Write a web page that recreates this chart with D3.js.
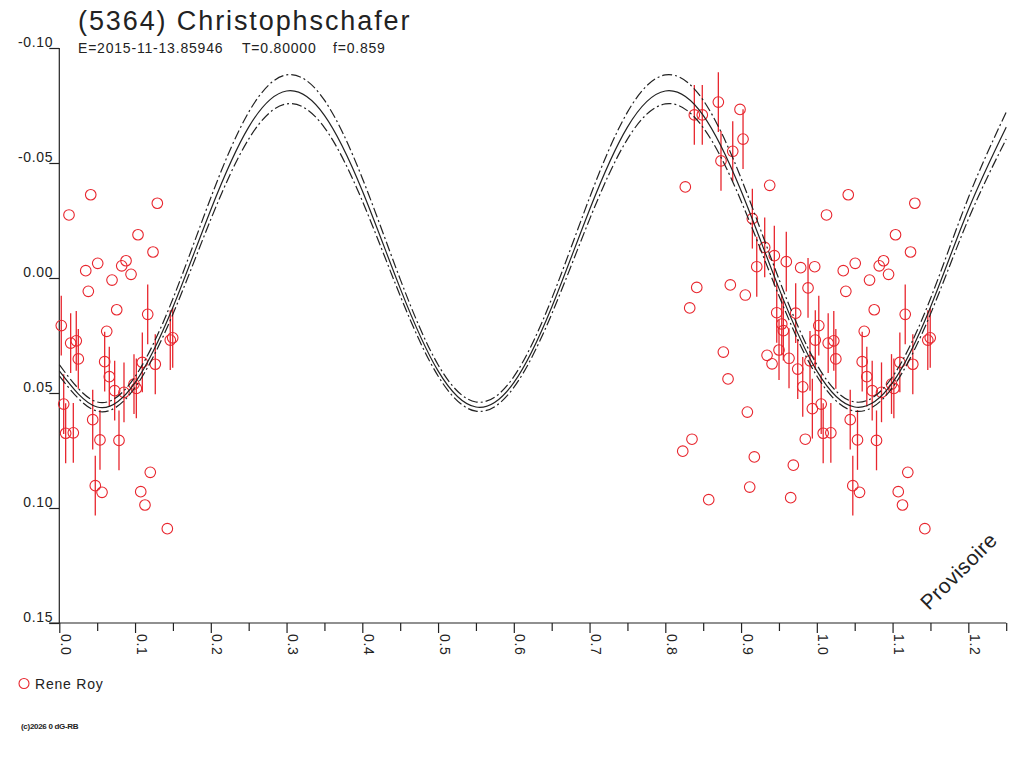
<!DOCTYPE html>
<html><head><meta charset="utf-8">
<script src="https://cdn.jsdelivr.net/npm/d3@7"></script>
<style>
body{margin:0;background:#fff}
svg{display:block}
text{font-family:'Liberation Sans',Arial,sans-serif;fill:#222}
</style>
</head><body>
<script>
// ---- data ----
const titleText = "(5364) Christophschafer";
const infoTexts = ["E=2015-11-13.85946", "T=0.80000", "f=0.859"];
const observerName = "Rene Roy";
const copyrightText = "(c)2026 0 dG-RB";
const watermarkText = "Provisoire";

const xMajorTicks = [0.0,0.1,0.2,0.3,0.4,0.5,0.6,0.7,0.8,0.9,1.0,1.1,1.2];
const xMinorTicks = [0.05,0.15,0.25,0.35,0.45,0.55,0.65,0.75,0.85,0.95,1.05,1.15,1.25];
const yTicks = [-0.10,-0.05,0.00,0.05,0.10,0.15];

// observations (phase 0..1), magnitude, error (0 = no error bar)
const obsPhase = [
 0.0415,0.0128,0.1294,0.1039,0.1237,0.0507,0.0881,0.0824,0.0349,0.0947,0.0696,0.0383,0.0758,0.0626,0.0564,0.1201,0.1075,0.1131,0.1426,
 0.0026,0.1167,0.0150,0.0224,0.0251,0.0599,0.1096,0.1267,0.1465,0.1497,0.0660,0.0731,0.0854,0.0986,0.1017,0.0058,0.0084,0.0185,0.0441,0.0537,0.0788,0.0475,
 0.8264,0.9378,0.8986,0.9787,0.9972,0.8415,0.8858,0.9056,0.8322,0.9343,0.9409,0.8766,0.8828,0.9083,0.8352,0.8230,0.9175,0.9848,0.9690,0.9114,0.8573,0.9655,
 0.8383,0.8488,0.8700,0.9026,0.8890,0.8735,0.9149,0.9312,0.9439,0.9597,0.9207,0.9884,0.9471,0.9721,0.9537,0.9558,0.9501,0.9633,0.9748,0.9910,0.9814,0.9941,0.9980
];
const obsMag = [
 -0.0362,-0.0274,-0.0325,-0.0188,-0.0113,-0.0064,-0.0075,-0.0053,-0.0032,-0.0016,0.0009,0.0058,0.0138,0.0232,0.0932,0.0845,0.0929,0.0987,0.1090,
 0.0207,0.0158,0.0283,0.0273,0.0352,0.0364,0.0367,0.0375,0.0270,0.0260,0.0429,0.0490,0.0497,0.0461,0.0480,0.0548,0.0675,0.0673,0.0616,0.0704,0.0706,0.0903,
 -0.0396,-0.0403,-0.0733,-0.0045,-0.0049,0.0041,0.0030,0.0074,0.0130,0.0336,0.0373,0.0322,0.0439,0.0583,0.0701,0.0753,0.0778,0.0701,0.0814,0.0909,0.0964,0.0955,
 -0.0709,-0.0709,-0.0765,-0.0604,-0.0551,-0.0509,-0.0258,-0.0133,-0.0097,-0.0071,-0.0049,0.0043,0.0151,0.0153,0.0200,0.0229,0.0313,0.0349,0.0396,0.0360,0.0473,0.0568,0.0270
];
const obsErr = [
 0,0,0,0,0,0,0,0,0,0,0,0,0,0,0,0,0,0,0,
 0.013,0.013,0.013,0.013,0.013,0.013,0.013,0.013,0.013,0.013,0.013,0.013,0.013,0.013,0.013,0.013,0.013,0.013,0.013,0.013,0.013,0.013,
 0,0,0,0,0,0,0,0,0,0,0,0,0,0,0,0,0,0,0,0,0,0,
 0.013,0.013,0.013,0.013,0.013,0.013,0.013,0.013,0.013,0.013,0.013,0.013,0.013,0.013,0.013,0.013,0.013,0.013,0.013,0.013,0.013,0.013,0.013
];

// fitted light curve and its envelope
const fitPhase = [0,0.05,0.10,0.15,0.20,0.25,0.30,0.35,0.40,0.45,0.50,0.55,0.60,0.65,0.70,0.75,0.80,0.85,0.90,0.95,1.00,1.05,1.10,1.15,1.20,1.25];
const fitMag = [0.0404,0.0561,0.0455,0.0127,-0.0297,-0.0656,-0.0813,-0.0707,-0.0379,0.0045,
                0.0404,0.0561,0.0455,0.0127,-0.0297,-0.0656,-0.0813,-0.0707,-0.0379,0.0045,
                0.0404,0.0561,0.0455,0.0127,-0.0297,-0.0656];
const fitUpper = [0.0377,0.0539,0.0429,0.0090,-0.0349,-0.0721,-0.0883,-0.0773,-0.0434,0.0005,
                  0.0377,0.0539,0.0429,0.0090,-0.0349,-0.0721,-0.0883,-0.0773,-0.0434,0.0005,
                  0.0377,0.0539,0.0429,0.0090,-0.0349,-0.0721];
const fitLower = [0.0426,0.0579,0.0476,0.0157,-0.0255,-0.0604,-0.0757,-0.0654,-0.0335,0.0077,
                  0.0426,0.0579,0.0476,0.0157,-0.0255,-0.0604,-0.0757,-0.0654,-0.0335,0.0077,
                  0.0426,0.0579,0.0476,0.0157,-0.0255,-0.0604];

// ---- drawing ----
const W = 1024, H = 768;
const RED = "#e8262e", INK = "#222";
const svg = d3.select("body").append("svg").attr("width", W).attr("height", H);

const x = d3.scaleLinear().domain([0, 1.25]).range([59.3, 1006.2]);
const y = d3.scaleLinear().domain([-0.10, 0.15]).range([48, 623]);

// title
svg.append("text").attr("x", 78).attr("y", 30)
  .style("font-size", "27px").style("letter-spacing", "1.9px").text(titleText);
const infoX = [78, 242, 333];
svg.selectAll("text.info").data(infoTexts).join("text").attr("class", "info")
  .attr("x", (d, i) => infoX[i]).attr("y", 53)
  .style("font-size", "14px").style("letter-spacing", "0.8px").text(d => d);

// y axis
const yAxis = d3.axisLeft(y).tickValues(yTicks).tickSize(10).tickSizeOuter(0)
  .tickFormat(d => d.toFixed(2));
const gy = svg.append("g").attr("transform", "translate(59.3,0)").call(yAxis);
gy.select(".domain").remove();
gy.selectAll(".tick line").attr("stroke", INK).attr("stroke-width", 1.2);
gy.selectAll(".tick text").attr("x", -6).attr("dy", "-1.5")
  .style("font-size", "14px").style("letter-spacing", "0.7px").style("font-family", "'Liberation Sans',Arial,sans-serif").attr("fill", INK);
svg.append("line").attr("x1", 59.3).attr("x2", 59.3).attr("y1", y(-0.10)).attr("y2", y(0.15))
  .attr("stroke", INK).attr("stroke-width", 1.2);

// x axis
svg.append("line").attr("x1", 49).attr("x2", x(1.25)).attr("y1", y(0.15)).attr("y2", y(0.15))
  .attr("stroke", INK).attr("stroke-width", 1.2);
const xAxisMinor = d3.axisBottom(x).tickValues(xMinorTicks).tickSize(8).tickSizeOuter(0).tickFormat("");
const gxm = svg.append("g").attr("transform", `translate(0,${y(0.15)})`).call(xAxisMinor);
gxm.select(".domain").remove();
gxm.selectAll(".tick line").attr("stroke", INK).attr("stroke-width", 1.2);
const xAxis = d3.axisBottom(x).tickValues(xMajorTicks).tickSize(10).tickSizeOuter(0)
  .tickFormat(d => d.toFixed(1));
const gx = svg.append("g").attr("transform", `translate(0,${y(0.15)})`).call(xAxis);
gx.select(".domain").remove();
gx.selectAll(".tick line").attr("stroke", INK).attr("stroke-width", 1.2);
gx.selectAll(".tick text")
  .attr("transform", "translate(0,11) rotate(90)")
  .attr("x", 0).attr("y", -1).attr("dy", 0)
  .attr("text-anchor", "start")
  .style("font-size", "14px").style("letter-spacing", "0.7px").style("font-family", "'Liberation Sans',Arial,sans-serif").attr("fill", INK);

// observations (repeat phases < 0.25 at phase + 1)
const obs = [];
obsPhase.forEach((p, i) => {
  obs.push({p: p, m: obsMag[i], e: obsErr[i]});
  if (p + 1 <= 1.25) obs.push({p: p + 1, m: obsMag[i], e: obsErr[i]});
});
const gObs = svg.append("g");
gObs.selectAll("line.err").data(obs.filter(d => d.e > 0)).join("line").attr("class", "err")
  .attr("x1", d => x(d.p)).attr("x2", d => x(d.p))
  .attr("y1", d => y(d.m - d.e)).attr("y2", d => y(d.m + d.e))
  .attr("stroke", RED).attr("stroke-width", 1.3);
gObs.selectAll("circle").data(obs).join("circle")
  .attr("cx", d => x(d.p)).attr("cy", d => y(d.m)).attr("r", 5.3)
  .attr("fill", "none").attr("stroke", RED).attr("stroke-width", 1.1);

// fitted curves
const lineGen = arr => d3.line().x((d, i) => x(fitPhase[i])).y(d => y(d)).curve(d3.curveNatural)(arr);
svg.append("path").attr("d", lineGen(fitUpper)).attr("fill", "none").attr("stroke", INK)
  .attr("stroke-width", 1.2).attr("stroke-dasharray", "10,3,2,3");
svg.append("path").attr("d", lineGen(fitLower)).attr("fill", "none").attr("stroke", INK)
  .attr("stroke-width", 1.2).attr("stroke-dasharray", "10,3,2,3");
svg.append("path").attr("d", lineGen(fitMag)).attr("fill", "none").attr("stroke", INK)
  .attr("stroke-width", 1.2);

// watermark
svg.append("text").attr("transform", "translate(929,611) rotate(-45)")
  .style("font-size", "21px").style("letter-spacing", "0.5px").text(watermarkText);

// legend
svg.append("circle").attr("cx", 24).attr("cy", 683.5).attr("r", 5)
  .attr("fill", "none").attr("stroke", RED).attr("stroke-width", 1.1);
svg.append("text").attr("x", 35).attr("y", 689)
  .style("font-size", "14px").style("letter-spacing", "0.8px").text(observerName);

// copyright
svg.append("text").attr("x", 21).attr("y", 728.5)
  .style("font-size", "8px").style("font-weight", "bold").style("letter-spacing", "-0.3px").text(copyrightText);
</script>
</body></html>
